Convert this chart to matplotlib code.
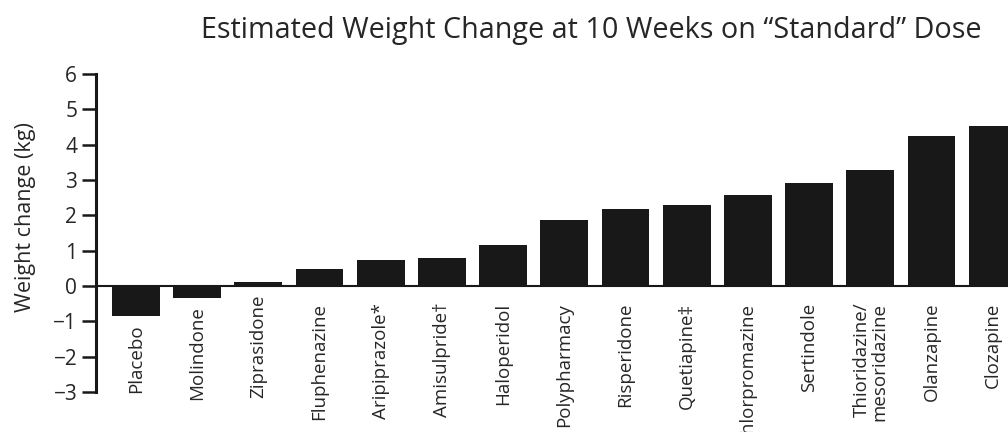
import matplotlib
matplotlib.use("Agg")
import matplotlib.pyplot as plt

drugs = ["Placebo", "Molindone", "Ziprasidone", "Fluphenazine", "Aripiprazole*",
         "Amisulpride\u2020", "Haloperidol", "Polypharmacy", "Risperidone",
         "Quetiapine\u2021", "Chlorpromazine", "Sertindole",
         "Thioridazine/\nmesoridazine", "Olanzapine", "Clozapine"]
weight_change = [-0.85, -0.34, 0.10, 0.48, 0.74, 0.80, 1.16, 1.87, 2.18,
                 2.29, 2.58, 2.92, 3.28, 4.25, 4.53]
yticks = [-3, -2, -1, 0, 1, 2, 3, 4, 5, 6]

plt.rcParams['font.family'] = ['Open Sans', 'DejaVu Sans']
txt = '#262626'

fig = plt.figure(figsize=(10.08, 4.32), dpi=100)
ax = fig.add_axes([0.0952, 0.0926, 0.926, 0.7361])

x = range(len(drugs))
ax.bar(x, weight_change, width=0.78, color='#181818', zorder=2)
ax.axhline(0, color='#181818', lw=1.5, zorder=1)

ax.set_xlim(-0.654, 14.6)
ax.set_ylim(-3, 6)
ax.set_yticks(yticks)
ax.set_xticks([])
for s in ['top', 'right', 'bottom']:
    ax.spines[s].set_visible(False)
ax.spines['left'].set_linewidth(2.2)
ax.spines['left'].set_color('#181818')
ax.tick_params(axis='y', length=10, width=1.8, color='#181818', pad=3.5,
               labelsize=15, labelcolor=txt)
ax.set_ylabel('Weight change (kg)', fontsize=15.5, color=txt)
ax.yaxis.set_label_coords(-0.064, 0.55)

# rotated category labels hanging below each bar
for i, (name, v) in enumerate(zip(drugs, weight_change)):
    off = -6 if v <= 0.15 else -12
    ax.annotate(name, xy=(i, min(v, 0)), xytext=(0, off), textcoords='offset points',
                rotation=90, ha='center', va='top', multialignment='right',
                fontsize=13.5, color=txt, linespacing=0.95)

fig.text(0.587, 0.912, 'Estimated Weight Change at 10 Weeks on \u201cStandard\u201d Dose',
         ha='center', va='baseline', fontsize=20.7, color=txt)

fig.savefig('out.png', dpi=100)
